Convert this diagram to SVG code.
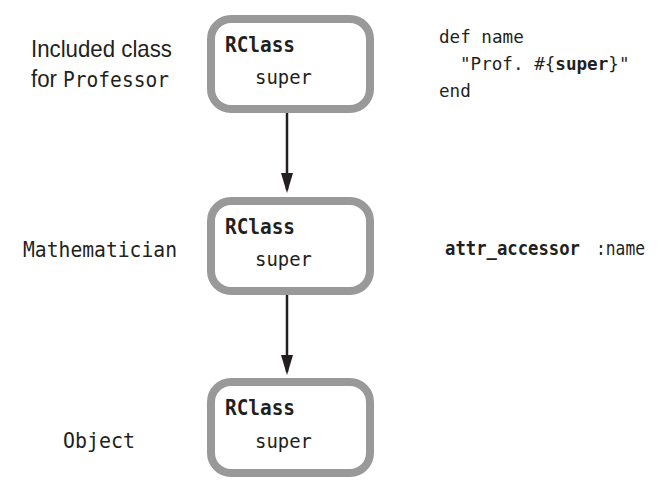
<svg xmlns="http://www.w3.org/2000/svg" width="672" height="489" viewBox="0 0 672 489">
<style>
.box{fill:#fff;stroke:#999;stroke-width:8}
.mono{font-family:"DejaVu Sans Mono","Liberation Mono",monospace;fill:#231f20}
.title{font-family:"DejaVu Sans Mono","Liberation Mono",monospace;font-weight:bold;font-size:21px;fill:#231f20}
.sup{font-family:"DejaVu Sans Mono","Liberation Mono",monospace;font-size:19px;fill:#231f20}
.sans{font-family:"Liberation Sans",Arial,sans-serif;fill:#231f20}
.conn{stroke:#231f20;stroke-width:2.5;fill:none}
</style>
<defs>
<marker id="ah" markerWidth="20" markerHeight="12" refX="17" refY="6" orient="auto" markerUnits="userSpaceOnUse" viewBox="0 0 20 12">
<path d="M0,0 L20,6 L0,12 Z" fill="#231f20"/>
</marker>
</defs>
<rect width="672" height="489" fill="#fff"/>
<g id="connectors">
<line class="conn" x1="287" y1="97" x2="287" y2="190" marker-end="url(#ah)"/>
<line class="conn" x1="287" y1="280" x2="287" y2="372" marker-end="url(#ah)"/>
</g>
<g id="node-professor">
<rect class="box" x="211" y="19" width="159" height="90" rx="20"/>
<text class="title" x="225" y="52" textLength="70" lengthAdjust="spacingAndGlyphs">RClass</text>
<text class="sup" x="255" y="84" textLength="57" lengthAdjust="spacingAndGlyphs">super</text>
</g>
<g id="node-mathematician">
<rect class="box" x="211" y="201" width="159" height="90" rx="20"/>
<text class="title" x="225" y="234" textLength="70" lengthAdjust="spacingAndGlyphs">RClass</text>
<text class="sup" x="255" y="266" textLength="57" lengthAdjust="spacingAndGlyphs">super</text>
</g>
<g id="node-object">
<rect class="box" x="211" y="382" width="159" height="91" rx="20"/>
<text class="title" x="225" y="415" textLength="70" lengthAdjust="spacingAndGlyphs">RClass</text>
<text class="sup" x="255" y="448" textLength="57" lengthAdjust="spacingAndGlyphs">super</text>
</g>
<g id="labels">
<text class="sans" x="31" y="57" font-size="24" textLength="141" lengthAdjust="spacingAndGlyphs">Included class</text>
<text class="sans" x="31" y="87" font-size="23" textLength="26" lengthAdjust="spacingAndGlyphs">for</text>
<text class="mono" x="63" y="87" font-size="22" textLength="106" lengthAdjust="spacingAndGlyphs">Professor</text>
<text class="mono" x="23" y="257" font-size="22" textLength="154" lengthAdjust="spacingAndGlyphs">Mathematician</text>
<text class="mono" x="63" y="448" font-size="22" textLength="72" lengthAdjust="spacingAndGlyphs">Object</text>
</g>
<g id="code">
<text class="mono" font-size="17.6" x="439" y="43">def name</text>
<text class="mono" font-size="17.6" x="460" y="70">"Prof. #{<tspan font-weight="bold">super</tspan>}"</text>
<text class="mono" font-size="17.6" x="439" y="97">end</text>
<text class="mono" font-size="19" x="445" y="255" font-weight="bold" textLength="135" lengthAdjust="spacingAndGlyphs">attr_accessor</text>
<text class="mono" font-size="19" x="596" y="255" textLength="49" lengthAdjust="spacingAndGlyphs">:name</text>
</g>
</svg>
